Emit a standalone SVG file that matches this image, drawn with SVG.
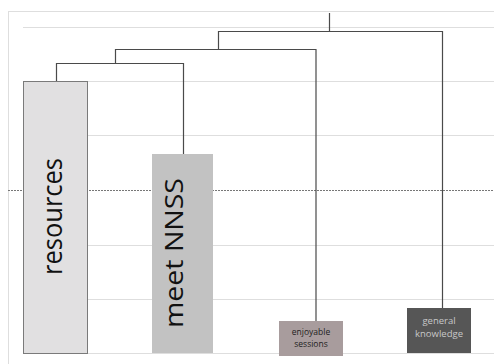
<svg xmlns="http://www.w3.org/2000/svg" width="494" height="364" viewBox="0 0 494 364">
<style>
.grid{stroke:#dedede;stroke-width:1;fill:none}
.dash{stroke:#777;stroke-width:1;stroke-dasharray:2,1;fill:none}
.conn{stroke:#4a4a4a;stroke-width:1.2;fill:none}
.t{font-family:"Open Sans","Noto Sans","Liberation Sans",sans-serif;text-anchor:middle}
</style>
<rect width="494" height="364" fill="#fff"/>
<g id="grid">
<path class="grid" d="M8 11.5H494M8.5 11V364"/>
<path class="grid" d="M23 27.5H494M23 81.5H494M23 135.5H494M23 245.5H494M23 299.5H494M23 353.5H494"/>
<path class="dash" d="M8 190.5H494"/>
</g>
<g id="connectors">
<path class="conn" d="M329.5 13V31.5M218.5 49V31.5H442.5V308M115.5 63V49.5H316V321M56.5 81V63.5H183.5V154"/>
</g>
<g id="resources">
<rect x="23.5" y="81.5" width="64" height="272" fill="#e1e0e1" stroke="#7a7a7a" stroke-width="1"/>
<text class="t" transform="translate(62 216.5) rotate(-90)" font-size="28" fill="#111" textLength="117" lengthAdjust="spacingAndGlyphs">resources</text>
</g>
<g id="meet-nnss">
<rect x="152" y="154" width="61" height="199" fill="#c2c2c2"/>
<text class="t" transform="translate(183 253) rotate(-90)" font-size="26" fill="#111" textLength="150" lengthAdjust="spacingAndGlyphs">meet NNSS</text>
</g>
<g id="enjoyable-sessions">
<rect x="279" y="321" width="64" height="35" fill="#a89c9d"/>
<text class="t" x="311" y="335" font-size="8.5" fill="#222">enjoyable</text>
<text class="t" x="311" y="347" font-size="8.5" fill="#222">sessions</text>
</g>
<g id="general-knowledge">
<rect x="407" y="308" width="64" height="45" fill="#565656"/>
<text class="t" x="439" y="324" font-size="9.5" fill="#c8c8c8">general</text>
<text class="t" x="439" y="337" font-size="9.5" fill="#c8c8c8">knowledge</text>
</g>
</svg>
